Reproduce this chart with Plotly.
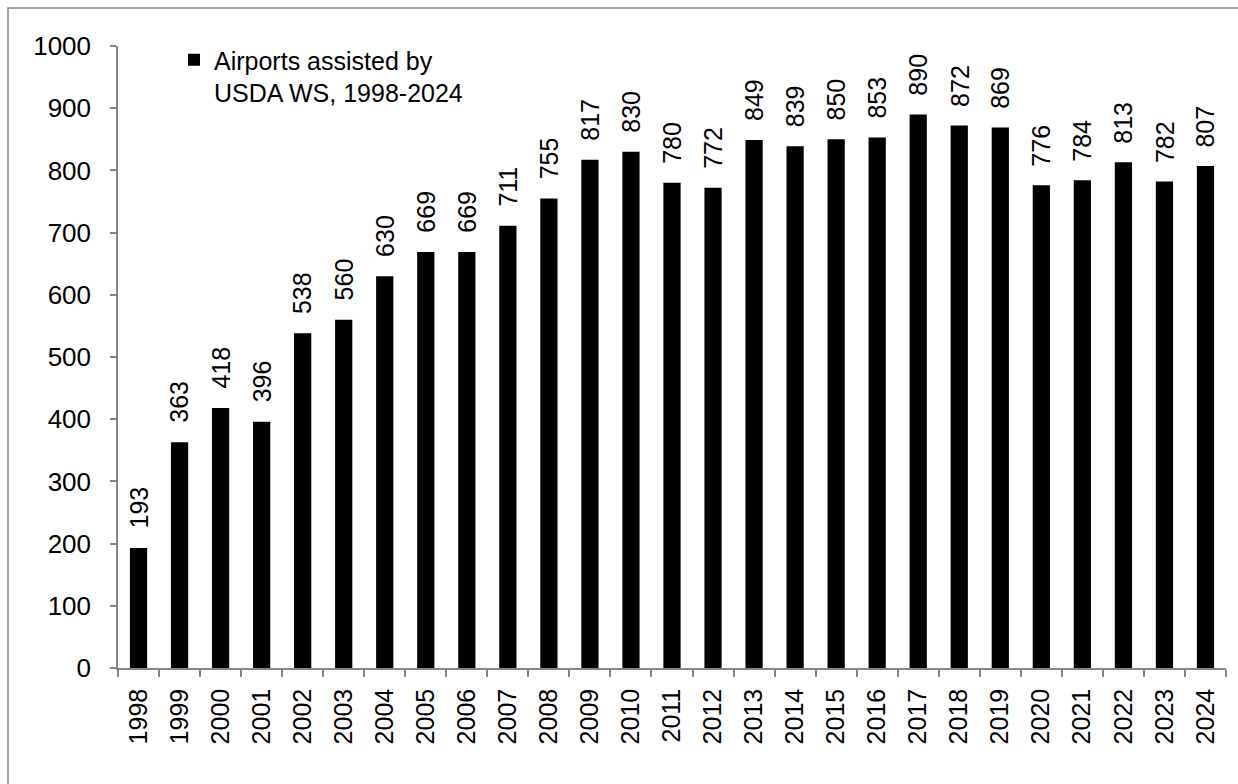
import plotly.graph_objects as go

years = [str(y) for y in range(1998, 2025)]
airports = [193, 363, 418, 396, 538, 560, 630, 669, 669, 711, 755, 817, 830, 780,
            772, 849, 839, 850, 853, 890, 872, 869, 776, 784, 813, 782, 807]
series_name = "Airports assisted by<br>USDA WS, 1998-2024"
y_ticks = list(range(0, 1001, 100))

FONT = "Arial, Liberation Sans, sans-serif"
AXIS = "#868686"

W, H = 1238, 784
ML, MR, MT, MB = 118, 12, 46, 116
pw = W - ML - MR
ph = H - MT - MB

fig = go.Figure()
fig.add_trace(go.Bar(
    x=years, y=airports, name=series_name,
    marker=dict(color="black", line=dict(width=0)),
    showlegend=True,
))

for i, v in enumerate(airports):
    fig.add_annotation(x=i, y=v, text=str(v), textangle=-90, showarrow=False,
                       xanchor="center", yanchor="bottom", yshift=17,
                       font=dict(family=FONT, size=25, color="black"))

# outer border
fig.add_shape(type="rect", xref="paper", yref="paper",
              x0=(8 - ML) / pw, x1=(W + 20 - ML) / pw,
              y0=-(H + 20 - MT - ph) / ph, y1=(MT + ph - 8) / ph,
              line=dict(color=AXIS, width=1.5), fillcolor="rgba(0,0,0,0)", layer="below")

fig.update_layout(
    width=W, height=H,
    margin=dict(l=ML, r=MR, t=MT, b=MB, pad=0),
    paper_bgcolor="white", plot_bgcolor="white",
    bargap=0.58,
    font=dict(family=FONT, size=25, color="black"),
    legend=dict(x=(174 - ML) / pw, y=1.0 + 9 / ph, xanchor="left", yanchor="top",
                bgcolor="rgba(0,0,0,0)", font=dict(family=FONT, size=25, color="black"),
                valign="top", itemwidth=30, tracegroupgap=0),
    showlegend=True,
)
fig.update_xaxes(type="category", range=[-0.5, len(years) - 0.5], autorange=False,
                 showline=True, linecolor=AXIS, linewidth=1.5,
                 ticks="outside", ticklen=7, tickwidth=1.5, tickcolor=AXIS,
                 tickson="boundaries", tickangle=-90, showgrid=False,
                 tickfont=dict(family=FONT, size=25, color="black"),
                 ticklabelstandoff=9)
fig.update_yaxes(range=[0, 1000], tickvals=y_ticks, showline=True, linecolor=AXIS,
                 linewidth=1.5, ticks="outside", ticklen=6, tickwidth=1.5, tickcolor=AXIS,
                 showgrid=False, zeroline=False,
                 tickfont=dict(family=FONT, size=26, color="black"),
                 ticklabelstandoff=14)

fig.write_html("out.html")
